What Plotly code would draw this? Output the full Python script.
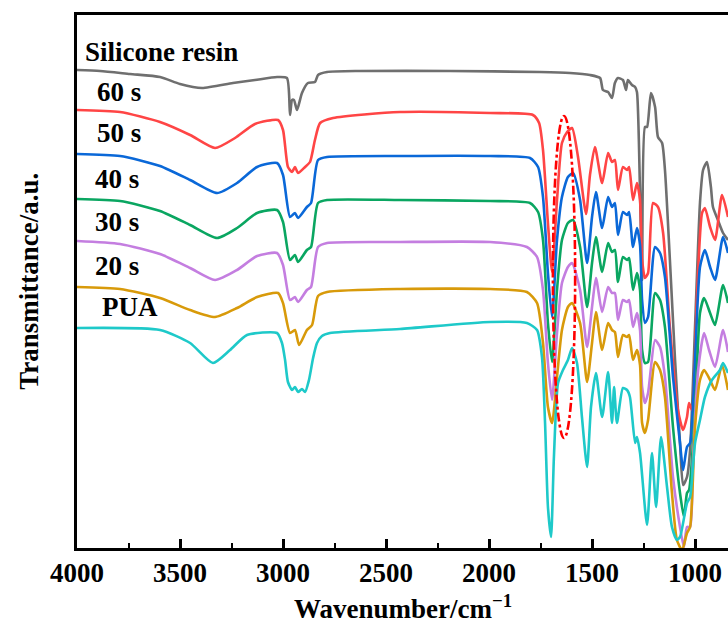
import plotly.graph_objects as go

# ---------------- data (wavenumber in cm^-1, transmittance in arbitrary offset units) ----------------
wn_silicone = [4000, 3888, 3743, 3597, 3500, 3393, 3243, 3136, 3029, 2981, 2966, 2956, 2947, 2932, 2908,
               2879, 2845, 2830, 2786, 2626, 2189, 1753, 1607, 1510, 1461, 1447, 1422, 1403, 1389, 1374,
               1350, 1335, 1326, 1306, 1291, 1282, 1267, 1257, 1243, 1233, 1214, 1194, 1180, 1160, 1146,
               1122, 1097, 1073, 1058, 1039, 1024, 1000, 976, 961, 942, 923, 913, 889, 864, 840]
t_silicone = [478, 477, 474, 471, 464, 460, 465, 468, 471, 470, 433, 448, 448, 438, 455,
              465, 466, 473, 476, 477, 477, 476, 475, 473, 470, 458, 456, 450, 465, 470,
              468, 458, 468, 463, 461, 456, 355, 268, 421, 421, 455, 441, 411, 405, 378,
              288, 188, 105, 63, 71, 98, 221, 345, 378, 386, 361, 341, 328, 315, 308]

wn_60s = [4000, 3791, 3597, 3451, 3330, 3233, 3136, 3024, 3000, 2976, 2956, 2942, 2927, 2893, 2869,
          2845, 2820, 2757, 2432, 1995, 1787, 1757, 1738, 1714, 1694, 1670, 1646, 1621, 1597, 1568,
          1529, 1510, 1486, 1451, 1422, 1403, 1389, 1374, 1350, 1330, 1320, 1301, 1282, 1267, 1257,
          1243, 1228, 1204, 1180, 1155, 1122, 1083, 1058, 1039, 1029, 1015, 990, 966, 952, 927,
          903, 869, 840]
t_60s = [438, 436, 426, 413, 400, 410, 424, 428, 418, 381, 376, 381, 375, 381, 386,
         408, 425, 430, 436, 435, 433, 425, 398, 325, 276, 348, 405, 416, 420, 391,
         334, 373, 401, 365, 395, 386, 388, 358, 381, 378, 381, 348, 365, 348, 288,
         270, 275, 345, 341, 315, 221, 138, 118, 131, 145, 138, 255, 335, 340, 321,
         308, 353, 331]

wn_50s = [4000, 3791, 3597, 3451, 3320, 3223, 3126, 3029, 3000, 2966, 2942, 2927, 2884, 2864, 2830,
          2786, 2432, 1995, 1801, 1762, 1738, 1714, 1694, 1670, 1646, 1617, 1592, 1558, 1524, 1500,
          1481, 1451, 1422, 1403, 1389, 1374, 1350, 1330, 1320, 1301, 1282, 1267, 1257, 1243, 1228,
          1194, 1170, 1146, 1107, 1073, 1058, 1039, 1024, 1000, 976, 952, 927, 903, 864, 840]
t_50s = [394, 392, 382, 368, 355, 365, 381, 385, 373, 331, 335, 330, 341, 345, 388,
         391, 392, 392, 390, 381, 351, 275, 231, 308, 351, 371, 375, 348, 285, 331,
         356, 320, 351, 341, 345, 313, 336, 333, 336, 301, 320, 303, 248, 225, 231,
         301, 295, 271, 171, 105, 78, 101, 105, 188, 281, 298, 281, 268, 311, 295]

wn_40s = [4000, 3791, 3597, 3451, 3320, 3223, 3126, 3029, 3000, 2966, 2942, 2927, 2884, 2864, 2830,
          2786, 2432, 1995, 1801, 1762, 1738, 1714, 1694, 1670, 1646, 1617, 1592, 1558, 1524, 1500,
          1481, 1451, 1422, 1403, 1389, 1374, 1350, 1330, 1320, 1301, 1282, 1267, 1257, 1243, 1228,
          1194, 1170, 1146, 1107, 1073, 1054, 1039, 1029, 1000, 976, 956, 927, 903, 864, 840]
t_40s = [349, 347, 337, 323, 310, 320, 335, 338, 326, 288, 293, 286, 298, 301, 345,
         348, 348, 347, 345, 336, 308, 225, 186, 258, 308, 325, 328, 301, 241, 285,
         311, 276, 305, 296, 298, 266, 291, 288, 290, 258, 275, 258, 198, 185, 186,
         255, 248, 221, 121, 55, 31, 55, 58, 138, 235, 250, 235, 223, 263, 245]

wn_30s = [4000, 3791, 3597, 3451, 3330, 3223, 3126, 3029, 3000, 2966, 2942, 2927, 2884, 2864, 2830,
          2786, 2432, 1995, 1816, 1767, 1738, 1714, 1694, 1670, 1646, 1617, 1597, 1558, 1524, 1500,
          1481, 1451, 1422, 1403, 1389, 1374, 1350, 1330, 1320, 1301, 1282, 1267, 1257, 1243, 1228,
          1194, 1170, 1146, 1107, 1073, 1054, 1039, 1024, 1010, 985, 956, 932, 903, 864, 840]
t_30s = [307, 304, 294, 280, 268, 278, 292, 295, 283, 248, 251, 246, 258, 261, 301,
         305, 306, 306, 301, 291, 258, 185, 148, 215, 265, 281, 285, 258, 201, 241,
         270, 236, 261, 255, 255, 228, 248, 246, 248, 221, 235, 218, 161, 145, 155,
         208, 201, 171, 71, 21, 1, 21, 21, 88, 178, 215, 198, 181, 218, 196]

wn_20s = [4000, 3791, 3597, 3451, 3330, 3223, 3126, 3024, 3000, 2966, 2942, 2922, 2884, 2859, 2830,
          2786, 2432, 1995, 1816, 1767, 1738, 1714, 1694, 1670, 1646, 1617, 1597, 1558, 1524, 1500,
          1481, 1451, 1422, 1403, 1389, 1374, 1350, 1330, 1320, 1301, 1282, 1267, 1257, 1243, 1228,
          1194, 1170, 1146, 1112, 1088, 1063, 1039, 1024, 1000, 976, 956, 927, 903, 869, 840]
t_20s = [261, 259, 250, 238, 231, 240, 251, 255, 245, 215, 218, 203, 218, 223, 252,
         256, 259, 259, 256, 245, 205, 141, 125, 171, 218, 241, 245, 225, 166, 205,
         236, 198, 225, 218, 216, 191, 213, 211, 213, 188, 198, 183, 125, 115, 128,
         186, 178, 151, 55, 8, -2, 15, 21, 121, 168, 178, 168, 158, 183, 158]

wn_pua = [4000, 3597, 3451, 3340, 3257, 3175, 3029, 3005, 2990, 2976, 2956, 2942, 2927, 2908, 2893,
          2874, 2854, 2835, 2811, 2772, 2432, 1995, 1816, 1767, 1743, 1728, 1714, 1699, 1685, 1665,
          1641, 1617, 1597, 1573, 1549, 1524, 1505, 1481, 1451, 1422, 1403, 1393, 1379, 1350, 1330,
          1316, 1291, 1282, 1267, 1233, 1209, 1189, 1165, 1136, 1112, 1088, 1073, 1039, 1024, 1000,
          976, 952, 918, 879, 864, 840]
t_pua = [220, 218, 205, 185, 198, 213, 215, 205, 188, 166, 158, 161, 156, 159, 156,
         168, 190, 205, 212, 215, 219, 226, 225, 218, 191, 125, 41, 11, 91, 165,
         178, 188, 200, 185, 131, 81, 141, 175, 131, 176, 125, 161, 125, 160, 158,
         151, 105, 111, 95, 23, 95, 41, 111, 61, 21, 8, 11, 45, 51, 105,
         128, 151, 168, 178, 185, 175]

series_names = ["Silicone resin", "60 s", "50 s", "40 s", "30 s", "20 s", "PUA"]
series_wn = [wn_silicone, wn_60s, wn_50s, wn_40s, wn_30s, wn_20s, wn_pua]
series_t = [t_silicone, t_60s, t_50s, t_40s, t_30s, t_20s, t_pua]
series_colors = ["#6f6f6f", "#ff4545", "#0a68d8", "#0aa661", "#c47ee0", "#d89a0a", "#1ec9c9"]

# label anchor positions (wavenumber, transmittance units)
label_wn = [3970, 3915, 3915, 3920, 3920, 3920, 3890]
label_t = [496, 456, 415, 369, 326, 282, 241]

# x tick labels
tick_vals = [4000, 3500, 3000, 2500, 2000, 1500, 1000]
tick_text = ["4000", "3500", "3000", "2500", "2000", "1500", "1000"]

# highlighted region (dash-dot ellipse)
ellipse_wn = [1690, 1582]
ellipse_t = [110, 432]

x_range = [4000, 840]
y_range = [0, 533]

FONT = "Liberation Serif"

fig = go.Figure()
for name, xs, ys, col in zip(series_names, series_wn, series_t, series_colors):
    fig.add_trace(go.Scatter(x=xs, y=ys, mode="lines", name=name,
                             line=dict(color=col, width=2.6, shape="spline", smoothing=0.6),
                             showlegend=False, hoverinfo="skip"))

for name, lx, ly in zip(series_names, label_wn, label_t):
    fig.add_annotation(x=lx, y=ly, xref="x", yref="y", text="<b>" + name + "</b>",
                       showarrow=False, xanchor="left", yanchor="middle",
                       font=dict(family=FONT, size=27, color="black"))

# bold tick labels
for tv, tt in zip(tick_vals, tick_text):
    fig.add_annotation(x=tv, y=0, xref="x", yref="paper", text="<b>" + tt + "</b>",
                       showarrow=False, xanchor="center", yanchor="top", yshift=-8,
                       font=dict(family=FONT, size=27, color="black"))

# axis titles
fig.add_annotation(x=0.5, y=-0.111, xref="paper", yref="paper",
                   text="<b>Wavenumber/cm<sup>−1</sup></b>", showarrow=False,
                   xanchor="center", yanchor="middle",
                   font=dict(family=FONT, size=27, color="black"))
fig.add_annotation(x=-0.075, y=0.5, xref="paper", yref="paper",
                   text="<b>Transmittance/a.u.</b>", textangle=-90, showarrow=False,
                   xanchor="center", yanchor="middle",
                   font=dict(family=FONT, size=27, color="black"))

fig.add_shape(type="circle", xref="x", yref="y",
              x0=ellipse_wn[0], x1=ellipse_wn[1], y0=ellipse_t[0], y1=ellipse_t[1],
              line=dict(color="#ff0000", width=2.6, dash="dashdot"))

fig.update_layout(
    width=728, height=635,
    margin=dict(l=77, r=0, t=15, b=87),
    paper_bgcolor="white", plot_bgcolor="white",
    font=dict(family=FONT, color="black"),
)
fig.update_xaxes(
    range=x_range, showline=True, linecolor="black", linewidth=2.5, mirror=True,
    ticks="inside", ticklen=9, tickwidth=2.5, tickcolor="black",
    tickvals=tick_vals, showticklabels=False,
    minor=dict(ticks="inside", ticklen=5, tickwidth=2, tickcolor="black", dtick=250, tick0=0),
    showgrid=False, zeroline=False, automargin=False,
)
fig.update_yaxes(
    range=y_range, showline=True, linecolor="black", linewidth=2.5, mirror=False,
    ticks="", showticklabels=False, showgrid=False, zeroline=False, automargin=False,
)

fig.write_html(
    "out.html",
    config={"displayModeBar": False},
    post_script="document.body.style.margin='0';document.body.style.overflow='hidden';",
)
